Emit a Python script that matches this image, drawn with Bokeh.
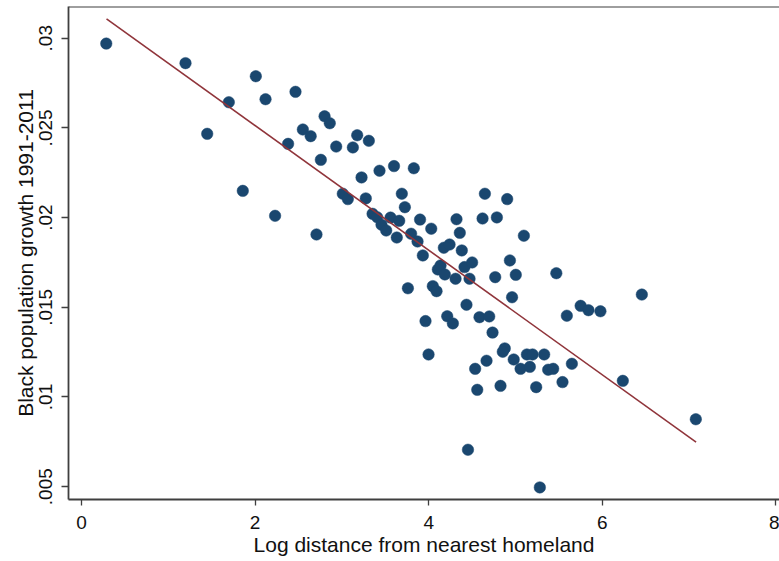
from bokeh.plotting import figure
from bokeh.models import FixedTicker, Range1d, Span, ColumnDataSource
from bokeh.embed import file_html
from bokeh.resources import INLINE

# Data
log_distance = [0.285, 1.198, 2.008, 2.465, 1.697, 2.120, 2.800, 2.860, 2.550, 2.640,
                1.448, 2.380, 2.934, 2.757, 1.858, 2.230, 2.707, 3.176, 3.310, 3.126,
                3.600, 3.433, 3.828, 3.226, 3.690, 4.647, 4.904, 3.010, 3.068, 3.275,
                3.725, 3.353, 3.406, 3.560, 3.660, 3.900, 4.320, 4.620, 4.785, 3.456,
                3.510, 3.632, 3.797, 4.029, 3.871, 4.358, 3.932, 4.174, 4.240, 4.381,
                4.935, 5.003, 4.136, 4.105, 4.186, 4.309, 4.412, 4.500, 4.470, 4.766,
                3.760, 4.047, 4.090, 4.960, 5.096, 5.470, 4.435, 6.455, 5.750, 5.840,
                5.978, 5.591, 3.963, 4.213, 4.278, 4.585, 4.697, 4.735, 4.876, 4.853,
                3.998, 4.535, 4.666, 4.979, 5.131, 5.196, 5.330, 5.058, 5.165, 5.376,
                5.434, 5.649, 5.541, 6.236, 4.559, 4.827, 5.238, 7.077, 4.452, 5.280]
black_growth = [0.02970, 0.02861, 0.02788, 0.02701, 0.02643, 0.02660, 0.02565, 0.02526, 0.02491, 0.02454,
                0.02467, 0.02411, 0.02396, 0.02322, 0.02149, 0.02010, 0.01906, 0.02459, 0.02428, 0.02391,
                0.02287, 0.02261, 0.02275, 0.02224, 0.02133, 0.02133, 0.02103, 0.02133, 0.02103, 0.02107,
                0.02058, 0.02021, 0.02002, 0.02000, 0.01982, 0.01989, 0.01991, 0.01995, 0.02001, 0.01960,
                0.01928, 0.01889, 0.01910, 0.01938, 0.01867, 0.01915, 0.01789, 0.01832, 0.01850, 0.01817,
                0.01761, 0.01681, 0.01733, 0.01711, 0.01683, 0.01659, 0.01724, 0.01750, 0.01659, 0.01668,
                0.01606, 0.01618, 0.01590, 0.01556, 0.01899, 0.01690, 0.01514, 0.01571, 0.01508, 0.01484,
                0.01478, 0.01453, 0.01423, 0.01450, 0.01410, 0.01445, 0.01449, 0.01359, 0.01271, 0.01252,
                0.01237, 0.01157, 0.01202, 0.01209, 0.01237, 0.01237, 0.01237, 0.01157, 0.01168, 0.01152,
                0.01157, 0.01185, 0.01083, 0.01090, 0.01040, 0.01062, 0.01055, 0.00876, 0.00706, 0.00496]

fit_x = [0.288, 7.08]
fit_y = [0.03108, 0.00748]

x_ticks = [0, 2, 4, 6, 8]
y_ticks = [0.005, 0.01, 0.015, 0.02, 0.025, 0.03]
y_tick_labels = [".005", ".01", ".015", ".02", ".025", ".03"]

x_start, x_end = -0.15, 8.041
y_start, y_end = 0.004286, 0.031767

p = figure(width=779, height=561, output_backend="svg", toolbar_location=None,
           x_range=Range1d(x_start, x_end), y_range=Range1d(y_start, y_end),
           min_border_left=68, min_border_right=0, min_border_top=6, min_border_bottom=62)
p.background_fill_color = "white"
p.border_fill_color = "white"
p.outline_line_color = None
p.grid.visible = False

axis_color = "#3f3f3f"
font = "Liberation Sans"

src = ColumnDataSource(dict(x=log_distance, y=black_growth))
p.scatter("x", "y", source=src, size=11.5, fill_color="#1a476f", line_color="#1a476f", line_width=0.5)
p.line(fit_x, fit_y, line_color="#90353b", line_width=1.6)

top_line = Span(location=y_end, dimension="width", line_color=axis_color, line_width=2)
p.add_layout(top_line)

xa = p.xaxis[0]
xa.ticker = FixedTicker(ticks=x_ticks)
xa.axis_label = "Log distance from nearest homeland"
ya = p.yaxis[0]
ya.ticker = FixedTicker(ticks=y_ticks)
ya.major_label_overrides = {t: l for t, l in zip(y_ticks, y_tick_labels)}
ya.axis_label = "Black population growth 1991-2011"
ya.major_label_orientation = "vertical"

for ax in (xa, ya):
    ax.axis_line_color = axis_color
    ax.axis_line_width = 1.8
    ax.major_tick_line_color = axis_color
    ax.major_tick_line_width = 1.3
    ax.major_tick_in = 0
    ax.minor_tick_line_color = None
    ax.major_label_text_font = font
    ax.major_label_text_font_size = "19px"
    ax.major_label_text_color = "#111111"
    ax.axis_label_text_font = font
    ax.axis_label_text_font_size = "21px"
    ax.axis_label_text_font_style = "normal"
    ax.axis_label_text_color = "#111111"

xa.major_tick_out = 6
xa.major_label_standoff = 10
xa.axis_label_standoff = 1
ya.major_tick_out = 7
ya.major_label_standoff = 9
ya.axis_label_standoff = 0

open("out.html", "w").write(file_html(p, INLINE))
